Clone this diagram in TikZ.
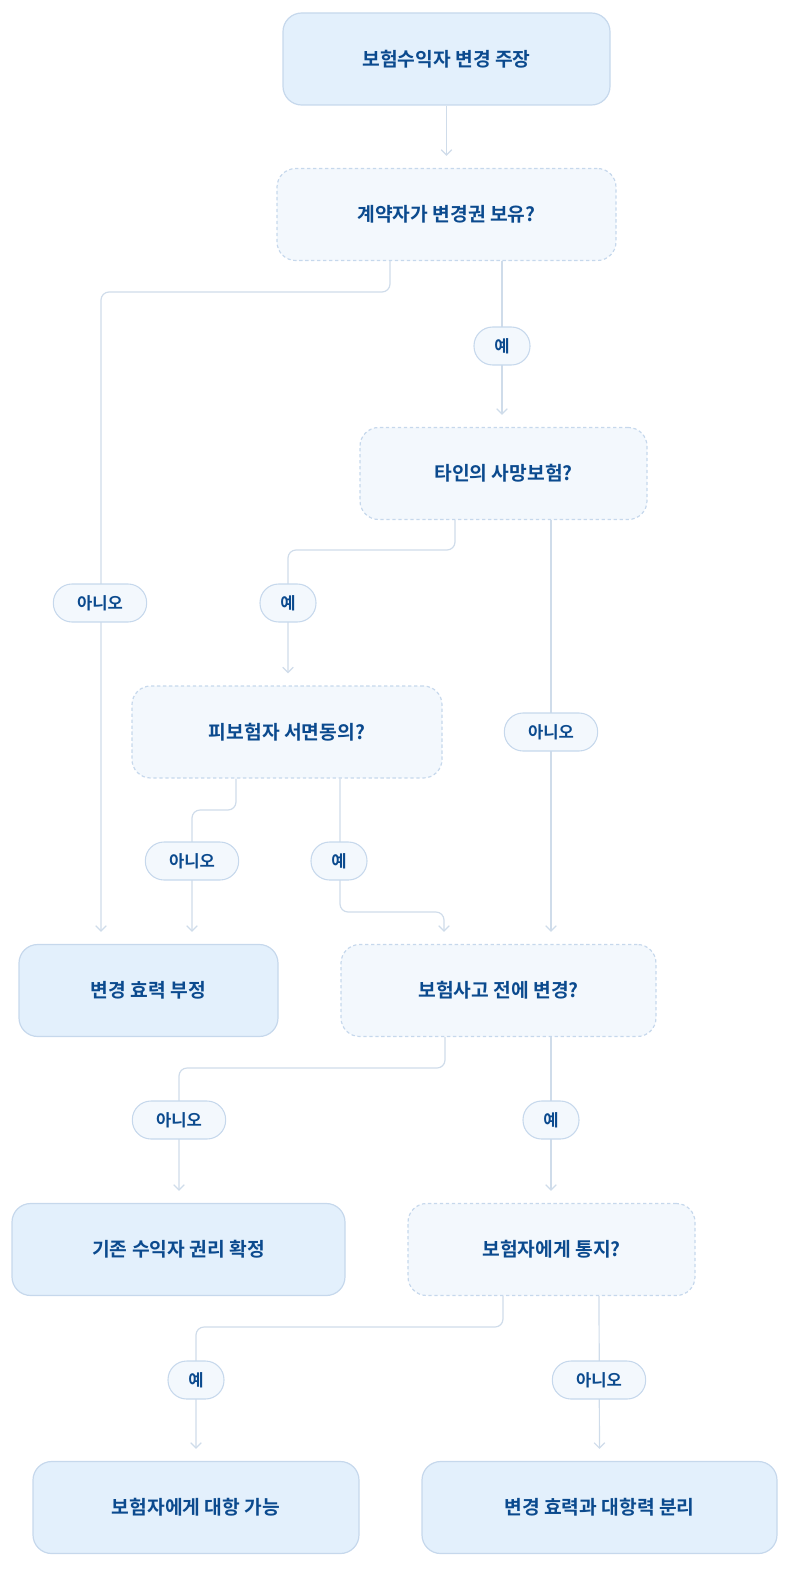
\documentclass[tikz,border=0pt]{standalone}
\usepackage{fontspec}
\setmainfont{Noto Sans CJK KR}[BoldFont={* Bold}]
\usetikzlibrary{arrows.meta,calc}
\definecolor{tx}{HTML}{0B4A8E}
\definecolor{ln}{HTML}{CFDCEA}
\definecolor{fa}{HTML}{E3F0FC}
\definecolor{fb}{HTML}{F3F8FD}
\definecolor{bd}{HTML}{C6D8EC}
\begin{document}
\begin{tikzpicture}[x=0.75bp,y=-0.75bp,
 box/.style={draw=bd,line width=0.9pt,fill=fa,rounded corners=14bp,minimum height=69bp,font=\bfseries\fontsize{14.5}{17}\selectfont,text=tx},
 dec/.style={box,fill=fb,dash pattern=on 2.5pt off 2pt},
 lab/.style={draw=bd,line width=0.8pt,fill=fb,rounded corners=14bp,minimum height=28.5bp,minimum width=42bp,inner xsep=4pt,font=\bfseries\fontsize{12.5}{15}\selectfont,text=tx},
 labn/.style={lab,minimum width=70bp},
 ln/.style={draw=ln,line width=0.9pt,rounded corners=6bp,-{Straight Barb[length=4pt,width=8pt]},shorten >=9bp}]
\useasboundingbox (0,0) rectangle (800,1587);
\node[box,minimum width=327*0.75bp] (A) at (446.5,59) {보험수익자 변경 주장};
\node[dec,minimum width=339*0.75bp] (B) at (446.5,214.5) {계약자가 변경권 보유?};
\node[dec,minimum width=287*0.75bp] (C) at (503.5,473.5) {타인의 사망보험?};
\node[dec,minimum width=310*0.75bp] (D) at (287,732) {피보험자 서면동의?};
\node[box,minimum width=259*0.75bp] (E) at (148.5,990.5) {변경 효력 부정};
\node[dec,minimum width=315*0.75bp] (F) at (498.5,990.5) {보험사고 전에 변경?};
\node[box,minimum width=333*0.75bp] (G) at (178.5,1249.5) {기존 수익자 권리 확정};
\node[dec,minimum width=287*0.75bp] (H) at (551.5,1249.5) {보험자에게 통지?};
\node[box,minimum width=326*0.75bp] (I) at (196,1507.5) {보험자에게 대항 가능};
\node[box,minimum width=355*0.75bp] (J) at (599.5,1507.5) {변경 효력과 대항력 분리};
% connectors
\draw[ln] (A.south) -- (A.south |- B.north);
\draw[ln] ([xshift=-56.5*0.75bp]B.south) |- (101,292) -- ([xshift=-47.5*0.75bp]E.north);
\draw[ln] ([xshift=55.5*0.75bp]B.south) -- ([xshift=-1.5*0.75bp]C.north);
\draw[ln] ([xshift=-48.5*0.75bp]C.south) |- (288,550) -- ([xshift=1*0.75bp]D.north);
\draw[ln] ([xshift=47.5*0.75bp]C.south) -- ([xshift=52.5*0.75bp]F.north);
\draw[ln] ([xshift=-51*0.75bp]D.south) |- (192,810) -- ([xshift=43.5*0.75bp]E.north);
\draw[ln] ([xshift=53*0.75bp]D.south) |- (444,912) -- ([xshift=-54.5*0.75bp]F.north);
\draw[ln] ([xshift=-53.5*0.75bp]F.south) |- (179,1068) -- ([xshift=0.5*0.75bp]G.north);
\draw[ln] ([xshift=52.5*0.75bp]F.south) -- ([xshift=-0.5*0.75bp]H.north);
\draw[ln] ([xshift=-48.5*0.75bp]H.south) |- (196,1327) -- (I.north);
\draw[ln] ([xshift=47.5*0.75bp]H.south) -- (J.north);
% labels
\node[labn] (l1) at (100,603) {아니오};
\node[lab] (l2) at (502,346) {예};
\node[lab] (l3) at (288,603) {예};
\node[labn] (l4) at (551,732) {아니오};
\node[labn] (l5) at (192,861) {아니오};
\node[lab] (l6) at (339,861) {예};
\node[labn] (l7) at (179,1120) {아니오};
\node[lab] (l8) at (551,1120) {예};
\node[lab] (l9) at (196,1380) {예};
\node[labn] (l10) at (599,1380) {아니오};
\end{tikzpicture}
\end{document}
